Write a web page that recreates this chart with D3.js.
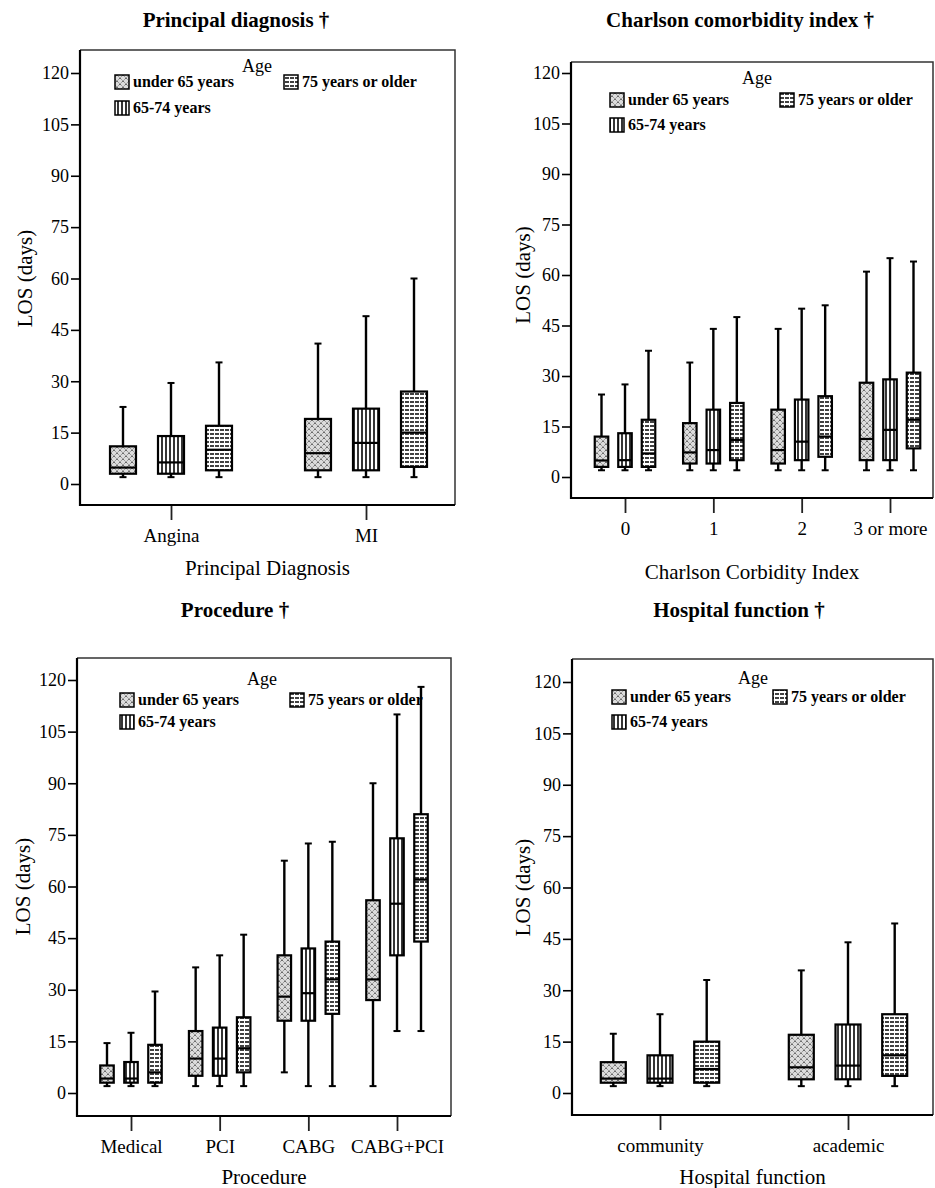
<!DOCTYPE html>
<html><head><meta charset="utf-8">
<script src="https://cdn.jsdelivr.net/npm/d3@7"></script>
<style>body{margin:0;background:#fff}svg{display:block}text{font-family:'Liberation Serif','Times New Roman',serif}</style>
</head><body>
<svg id="c" width="935" height="1188"></svg>
<script>
// ---------- DATA ----------
const ageGroups = ["under 65 years", "65-74 years", "75 years or older"];
const yTicks = [0, 15, 30, 45, 60, 75, 90, 105, 120];
// each box: [lower whisker, Q1, median, Q3, upper whisker] (days)

const diagCats = ["Angina", "MI"];
const diagU65  = [[2, 3, 4.8, 11, 22.5], [2, 4, 9, 19, 41]];
const diag6574 = [[2, 3, 6.3, 14, 29.5], [2, 4, 12, 22, 49]];
const diag75   = [[2, 4, 10, 17, 35.5], [2, 5, 15, 27, 60]];

const cciCats = ["0", "1", "2", "3 or more"];
const cciU65  = [[2, 3, 4.9, 12, 24.5], [2, 4, 7.3, 16, 34], [2, 4, 8, 20, 44], [2, 5, 11.3, 28, 61]];
const cci6574 = [[2, 3, 5, 13, 27.5], [2, 4, 8, 20, 44], [2, 5, 10.5, 23, 50], [2, 5, 14, 29, 65]];
const cci75   = [[2, 3, 7, 17, 37.5], [2, 5, 11, 22, 47.5], [2, 6, 12, 24, 51], [2, 8.5, 17, 31, 64]];

const procCats = ["Medical", "PCI", "CABG", "CABG+PCI"];
const procU65  = [[2, 3, 4.2, 8, 14.5], [2, 5, 10, 18, 36.5], [6, 21, 28, 40, 67.5], [2, 27, 33, 56, 90]];
const proc6574 = [[2, 3, 4.2, 9, 17.5], [2, 5, 10, 19, 40], [2, 21, 29, 42, 72.5], [18, 40, 55, 74, 110]];
const proc75   = [[2, 3, 6, 14, 29.5], [2, 6, 13, 22, 46], [2, 23, 33, 44, 73], [18, 44, 62, 81, 118]];

const hospCats = ["community", "academic"];
const hospU65  = [[2, 3, 4.2, 9, 17.3], [2, 4, 7.5, 17, 35.8]];
const hosp6574 = [[2, 3, 4.2, 11, 23], [2, 4, 8, 20, 44]];
const hosp75   = [[2, 3, 7, 15, 33], [2, 5, 11, 23, 49.5]];

// ---------- LAYOUT ----------
const panels = [
  { title: "Principal diagnosis †", tx: 236, ty: 27, xTitle: "Principal Diagnosis",
    cats: diagCats, series: [diagU65, diag6574, diag75],
    frame: {l: 80, t: 50, r: 455, b: 505}, y0: 484, y120: 73,
    xr: [171, 366], off: 48, bw: 26, ylx: 25, xty: 575,
    leg: {ax: 257, ay: 72, x1: 115, x2: 284, r1: 75, r2: 101} },
  { title: "Charlson comorbidity index †", tx: 740, ty: 27, xTitle: "Charlson Corbidity Index",
    cats: cciCats, series: [cciU65, cci6574, cci75],
    frame: {l: 571, t: 62, r: 933, b: 498}, y0: 477, y120: 73,
    xr: [625, 890], off: 23.5, bw: 13.5, ylx: 523, xty: 579,
    leg: {ax: 757, ay: 84, x1: 610, x2: 780, r1: 93, r2: 118} },
  { title: "Procedure †", tx: 235, ty: 617, xTitle: "Procedure",
    cats: procCats, series: [procU65, proc6574, proc75],
    frame: {l: 77, t: 658, r: 451, b: 1116}, y0: 1093, y120: 680,
    xr: [131, 397], off: 24, bw: 13.5, ylx: 23, xty: 1184,
    leg: {ax: 262, ay: 685, x1: 120, x2: 290, r1: 693, r2: 715} },
  { title: "Hospital function †", tx: 739, ty: 617, xTitle: "Hospital function",
    cats: hospCats, series: [hospU65, hosp6574, hosp75],
    frame: {l: 572, t: 659, r: 933, b: 1115}, y0: 1093, y120: 682,
    xr: [660, 848], off: 46.7, bw: 25, ylx: 523, xty: 1184,
    leg: {ax: 753, ay: 684, x1: 612, x2: 773, r1: 690, r2: 715} }
];

const FONT = "'Liberation Serif','Times New Roman',serif";
const svg = d3.select("#c").style("font-family", FONT);
const defs = svg.append("defs");

// pattern: under 65 (stippled cross-hatch)
const p0 = defs.append("pattern").attr("id", "pat0").attr("patternUnits", "userSpaceOnUse")
  .attr("width", 6).attr("height", 6);
p0.append("rect").attr("width", 6).attr("height", 6).attr("fill", "#dcdcdc");
p0.append("path").attr("d", "M0,0L6,6M6,0L0,6").attr("stroke", "#5a5a5a")
  .attr("stroke-width", 0.9).attr("stroke-dasharray", "1.4,0.7");
// pattern: 65-74 (vertical lines)
const p1 = defs.append("pattern").attr("id", "pat1").attr("patternUnits", "userSpaceOnUse")
  .attr("width", 4).attr("height", 4);
p1.append("rect").attr("width", 4).attr("height", 4).attr("fill", "#fff");
p1.append("line").attr("x1", 2).attr("x2", 2).attr("y1", 0).attr("y2", 4)
  .attr("stroke", "#111").attr("stroke-width", 1.7);
// pattern: 75+ (horizontal lines)
const p2 = defs.append("pattern").attr("id", "pat2").attr("patternUnits", "userSpaceOnUse")
  .attr("width", 5).attr("height", 4);
p2.append("rect").attr("width", 5).attr("height", 4).attr("fill", "#fff");
p2.append("line").attr("x1", 0).attr("x2", 5).attr("y1", 2).attr("y2", 2)
  .attr("stroke", "#111").attr("stroke-width", 1.6).attr("stroke-dasharray", "4,1");

panels.forEach(P => {
  const g = svg.append("g");
  const f = P.frame;
  const y = d3.scaleLinear().domain([0, 120]).range([P.y0, P.y120]);
  const x = d3.scalePoint().domain(P.cats).range(P.xr);
  const grp = d3.scalePoint().domain(ageGroups).range([-P.off, P.off]);

  // title
  g.append("text").attr("x", P.tx).attr("y", P.ty).attr("text-anchor", "middle")
    .attr("font-size", 21).attr("font-weight", "bold").text(P.title);

  // frame top/right (lighter)
  g.append("path").attr("d", `M${f.l},${f.t}H${f.r}V${f.b}`).attr("fill", "none")
    .attr("stroke", "#333").attr("stroke-width", 1.5);

  // y axis
  const ya = g.append("g").attr("transform", `translate(${f.l},0)`)
    .call(d3.axisLeft(y).tickValues(yTicks).tickSize(9).tickPadding(2))
    .attr("font-family", null);
  ya.select(".domain").remove();
  ya.selectAll(".tick line").attr("stroke", "#000").attr("stroke-width", 1.6);
  ya.selectAll(".tick text").attr("font-size", 18).attr("fill", "#000");

  // x axis
  const xa = g.append("g").attr("transform", `translate(0,${f.b})`)
    .call(d3.axisBottom(x).tickSize(15).tickPadding(9))
    .attr("font-family", null);
  xa.select(".domain").remove();
  xa.selectAll(".tick line").attr("stroke", "#222").attr("stroke-width", 1.8);
  xa.selectAll(".tick text").attr("font-size", 19).attr("fill", "#000");

  // left & bottom frame lines
  g.append("path").attr("d", `M${f.l},${f.t}V${f.b}H${f.r}`).attr("fill", "none")
    .attr("stroke", "#000").attr("stroke-width", 2.2);

  // axis titles
  g.append("text").attr("transform", `translate(${P.ylx},${(P.y0 + P.y120) / 2}) rotate(-90)`)
    .attr("text-anchor", "middle").attr("dominant-baseline", "central")
    .attr("font-size", 21).text("LOS (days)");
  g.append("text").attr("x", (f.l + f.r) / 2).attr("y", P.xty).attr("text-anchor", "middle")
    .attr("font-size", 21).text(P.xTitle);

  // boxes
  P.series.forEach((ser, si) => {
    const age = ageGroups[si];
    ser.forEach((d, ci) => {
      const cx = x(P.cats[ci]) + grp(age);
      const [lo, q1, med, q3, hi] = d;
      const bg = g.append("g");
      bg.append("line").attr("x1", cx).attr("x2", cx).attr("y1", y(hi)).attr("y2", y(q3))
        .attr("stroke", "#000").attr("stroke-width", 2.4);
      bg.append("line").attr("x1", cx).attr("x2", cx).attr("y1", y(q1)).attr("y2", y(lo))
        .attr("stroke", "#000").attr("stroke-width", 2.4);
      [hi, lo].forEach(v => bg.append("line").attr("x1", cx - 3.5).attr("x2", cx + 3.5)
        .attr("y1", y(v)).attr("y2", y(v)).attr("stroke", "#000").attr("stroke-width", 2));
      bg.append("rect").attr("x", cx - P.bw / 2).attr("width", P.bw)
        .attr("y", y(q3)).attr("height", y(q1) - y(q3))
        .attr("fill", `url(#pat${si})`).attr("stroke", "#000").attr("stroke-width", 2.2);
      bg.append("line").attr("x1", cx - P.bw / 2).attr("x2", cx + P.bw / 2)
        .attr("y1", y(med)).attr("y2", y(med)).attr("stroke", "#000").attr("stroke-width", 2.2);
    });
  });

  // legend
  const L = P.leg;
  g.append("text").attr("x", L.ax).attr("y", L.ay).attr("text-anchor", "middle")
    .attr("font-size", 18).text("Age");
  const items = [
    {i: 0, x: L.x1, y: L.r1},
    {i: 2, x: L.x2, y: L.r1},
    {i: 1, x: L.x1, y: L.r2}
  ];
  items.forEach(it => {
    g.append("rect").attr("x", it.x).attr("y", it.y).attr("width", 14).attr("height", 14)
      .attr("fill", `url(#pat${it.i})`).attr("stroke", "#000").attr("stroke-width", 1.5);
    g.append("text").attr("x", it.x + 18).attr("y", it.y + 12)
      .attr("font-size", 16).attr("font-weight", "bold").text(ageGroups[it.i]);
  });
});
</script>
</body></html>
